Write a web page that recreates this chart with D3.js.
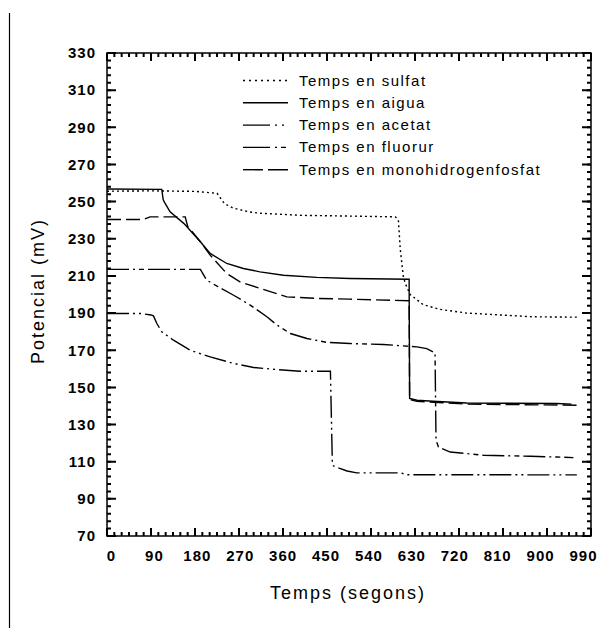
<!DOCTYPE html>
<html>
<head>
<meta charset="utf-8">
<script src="https://cdn.jsdelivr.net/npm/d3@7"></script>
<style>
  body { margin: 0; background: #fff; }
  svg { display: block; }
  .tick-label text { font-family: "Liberation Sans", Arial, sans-serif; font-size: 15px; font-weight: bold; letter-spacing: 1px; fill: #000; }
  .legend text { font-family: "Liberation Sans", Arial, sans-serif; font-size: 15px; letter-spacing: 1.5px; fill: #000; }
  .title { font-family: "Liberation Sans", Arial, sans-serif; font-size: 18px; letter-spacing: 2px; fill: #000; }
</style>
</head>
<body>
<svg id="chart" width="598" height="628"></svg>
<script>
// Potential (mV) against time (s), one series per medium: [time, potential]
const sulfat = [[0,255.6],[90,255.8],[180,255.5],[225,254.5],[240,249],[258,246.5],[290,244.5],[313,243.7],[400,242.6],[500,242.2],[590,241.8],[596,240],[598,232],[600,224],[606,210],[610,206],[620,200],[647,194.5],[681,192],[736,190],[804,189],[871,188],[961,187.8]];
const aigua = [[0,256.8],[112,256.6],[115,251],[118,249.5],[129,244.5],[157,238.3],[191,228.4],[211,222.1],[245,216.7],[279,214],[313,212.2],[361,210.4],[429,209.2],[497,208.6],[618,208.2],[619,144],[634,143.1],[667,142.5],[736,141.6],[920,141.3],[950,141]];
const acetat = [[0,189.8],[68,189.8],[90,189],[95,188.5],[102,184.4],[112,179.9],[136,175.4],[170,170],[211,166.4],[259,162.9],[300,160.7],[348,159.6],[395,158.7],[457,158.7],[461,108.1],[467,107.2],[491,105],[511,104],[600,104],[613,103],[961,102.9]];
const fluorur = [[0,213.5],[191,213.5],[204,207.7],[225,204.5],[259,199.6],[293,194.3],[327,188],[348,183.5],[375,179],[409,176.3],[450,174.2],[497,173.6],[565,173.1],[634,171.8],[654,170.9],[671,168.6],[673,121.5],[678,117.9],[702,115.2],[770,113.5],[866,112.9],[920,112.5],[954,112.2]];
const monohidrogenfosfat = [[0,240.4],[75,240.4],[88,241.8],[160,241.8],[165,236.6],[172,234.5],[191,228.4],[211,221.2],[245,211.3],[272,206.8],[313,203.3],[368,198.7],[429,197.9],[497,197.5],[618,196.6],[619,143.5],[634,142.5],[736,141],[961,140.4]];

const seriesNames = ["Temps en sulfat", "Temps en aigua", "Temps en acetat", "Temps en fluorur", "Temps en monohidrogenfosfat"];

const xTicks = [0, 90, 180, 270, 360, 450, 540, 630, 720, 810, 900, 990];
const yTicks = [70, 90, 110, 130, 150, 170, 190, 210, 230, 250, 270, 290, 310, 330];
const xMinorStep = 15;
const yMinorStep = 4;

const svg = d3.select("#chart");

const plotLeft = 107, plotRight = 591, plotTop = 53, plotBottom = 536;
const x = d3.scaleLinear().domain([0, 990]).range([plotLeft, plotRight]);
const y = d3.scaleLinear().domain([70, 330]).range([plotBottom, plotTop]);
// the time labels sit on a slightly tighter spacing than the tick marks
const xLabel = d3.scaleLinear().domain([0, 990]).range([111, 583]);

// page rule at the left margin
svg.append("line")
  .attr("x1", 9.5).attr("x2", 9.5).attr("y1", 13).attr("y2", 628)
  .attr("stroke", "#000").attr("stroke-width", 1.2);

const xMinor = d3.range(0, 990 + 1, xMinorStep);
const yMinor = d3.range(70, 330 + 1, yMinorStep);

// frame
svg.append("rect")
  .attr("x", plotLeft).attr("y", plotTop)
  .attr("width", plotRight - plotLeft).attr("height", plotBottom - plotTop)
  .attr("fill", "none").attr("stroke", "#000").attr("stroke-width", 1.5);

// inward tick marks on all four sides of the frame, drawn as one path each
const xMarkPath = (values, len) => values.map(d =>
  `M${x(d)},${plotBottom}v${-len}M${x(d)},${plotTop}v${len}`).join("");
const yMarkPath = (values, len) => values.map(d =>
  `M${plotLeft},${y(d)}h${len}M${plotRight},${y(d)}h${-len}`).join("");

svg.append("path").attr("d", xMarkPath(xMinor, 4)).attr("stroke", "#000").attr("stroke-width", 2).attr("fill", "none");
svg.append("path").attr("d", xMarkPath(xTicks, 8)).attr("stroke", "#000").attr("stroke-width", 2).attr("fill", "none");
svg.append("path").attr("d", yMarkPath(yMinor, 4)).attr("stroke", "#000").attr("stroke-width", 2).attr("fill", "none");
svg.append("path").attr("d", yMarkPath(yTicks, 9)).attr("stroke", "#000").attr("stroke-width", 2).attr("fill", "none");

// tick labels
const yAxis = svg.append("g")
  .attr("class", "tick-label")
  .attr("transform", `translate(${plotLeft},0)`)
  .call(d3.axisLeft(y).tickValues(yTicks).tickSize(0).tickPadding(11).tickFormat(d3.format("d")));
const xAxis = svg.append("g")
  .attr("class", "tick-label")
  .attr("transform", `translate(0,${plotBottom})`)
  .call(d3.axisBottom(xLabel).tickValues(xTicks).tickSize(0).tickPadding(14).tickFormat(d3.format("d")));
[xAxis, yAxis].forEach(g => {
  g.select(".domain").remove();
  g.selectAll("line").remove();
  g.attr("font-family", null).attr("font-size", null);
});

const series = [
  { name: seriesNames[0], data: sulfat, dash: "2,3", legendDash: "2,4" },
  { name: seriesNames[1], data: aigua, dash: null, legendDash: null },
  { name: seriesNames[2], data: acetat, dash: "22,4,2,4,2,4", legendDash: "27,5,2,5,2,4" },
  { name: seriesNames[3], data: fluorur, dash: "22,4,2,4,5,4", legendDash: "27,5,2,4,5,2" },
  { name: seriesNames[4], data: monohidrogenfosfat, dash: "14,5", legendDash: "20,5" }
];

const line = d3.line().x(d => x(d[0])).y(d => y(d[1]));

svg.append("g").selectAll("path")
  .data(series)
  .join("path")
  .attr("d", d => line(d.data))
  .attr("fill", "none")
  .attr("stroke", "#000")
  .attr("stroke-width", 1.4)
  .attr("stroke-dasharray", d => d.dash);

// legend
const legend = svg.append("g").attr("class", "legend");
const rows = legend.selectAll("g")
  .data(series)
  .join("g")
  .attr("transform", (d, i) => `translate(0,${80 + i * 22.3})`);
rows.append("line")
  .attr("x1", 243).attr("x2", 288).attr("y1", 0.5).attr("y2", 0.5)
  .attr("stroke", "#000").attr("stroke-width", 1.4)
  .attr("stroke-dasharray", d => d.legendDash);
rows.append("text")
  .attr("x", 299).attr("y", 5.5)
  .text(d => d.name);

// axis titles
svg.append("text")
  .attr("class", "title")
  .attr("x", 348).attr("y", 599)
  .attr("text-anchor", "middle")
  .text("Temps (segons)");

svg.append("text")
  .attr("class", "title")
  .attr("transform", "translate(44,291) rotate(-90)")
  .attr("text-anchor", "middle")
  .text("Potencial (mV)");
</script>
</body>
</html>
